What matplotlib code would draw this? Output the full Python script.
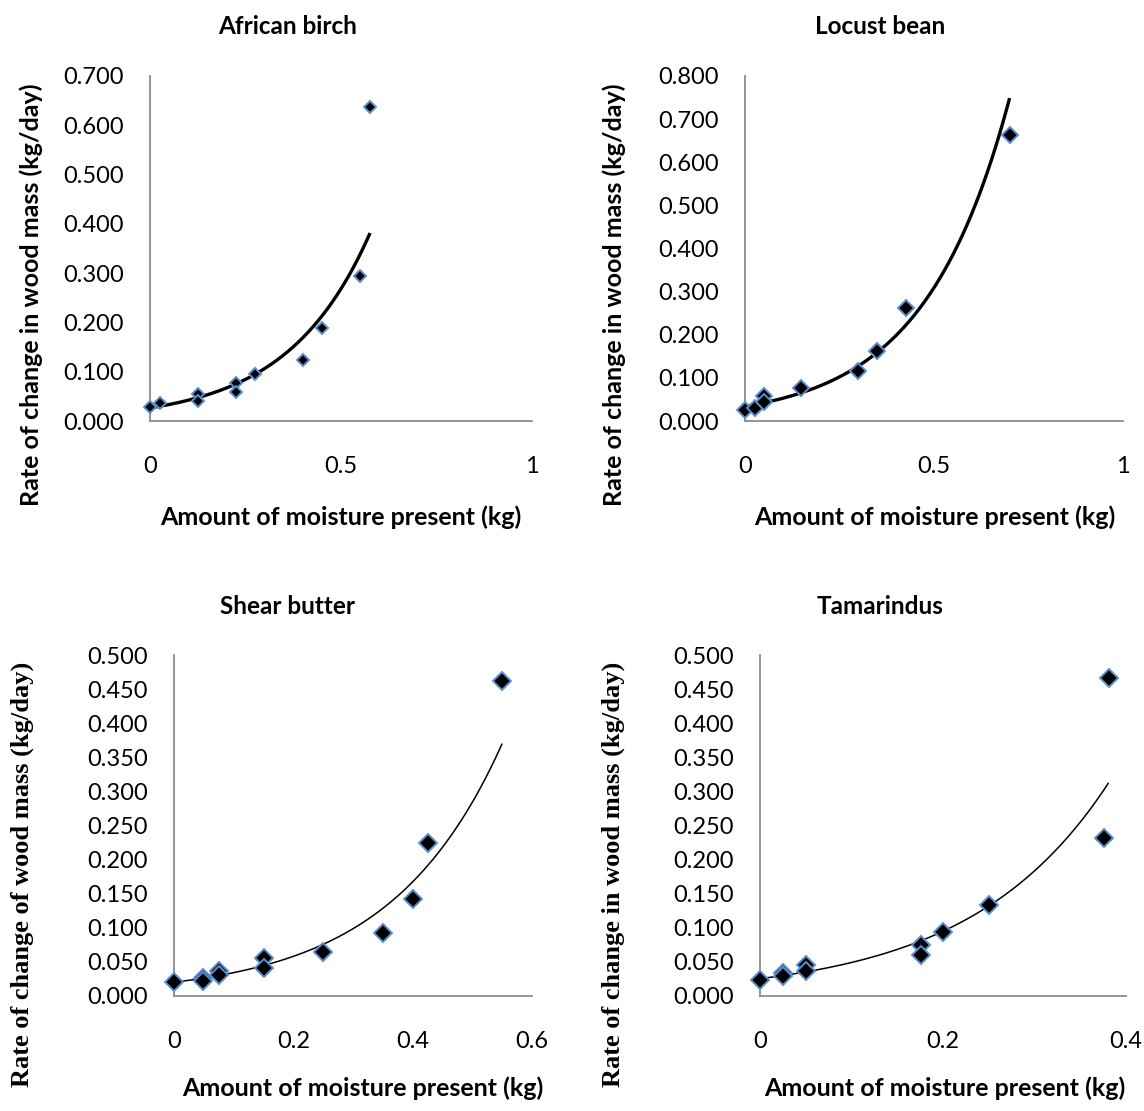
import numpy as np
import matplotlib
matplotlib.use("Agg")
import matplotlib.pyplot as plt

# ---------------- data ----------------
titles = ["African birch", "Locust bean", "Shear butter", "Tamarindus"]

birch_x = [0.0, 0.026, 0.126, 0.126, 0.225, 0.225, 0.274, 0.400, 0.450, 0.549, 0.576]
birch_y = [0.029, 0.036, 0.054, 0.041, 0.078, 0.059, 0.096, 0.123, 0.188, 0.294, 0.638]

locust_x = [0.0, 0.026, 0.050, 0.050, 0.147, 0.300, 0.350, 0.425, 0.700]
locust_y = [0.026, 0.030, 0.057, 0.045, 0.077, 0.115, 0.163, 0.262, 0.663]

shear_x = [0.0, 0.048, 0.048, 0.076, 0.076, 0.150, 0.150, 0.250, 0.351, 0.400, 0.426, 0.550]
shear_y = [0.021, 0.027, 0.022, 0.037, 0.031, 0.055, 0.041, 0.065, 0.093, 0.142, 0.225, 0.462]

tam_x = [0.0, 0.025, 0.025, 0.050, 0.050, 0.176, 0.176, 0.200, 0.250, 0.376, 0.381]
tam_y = [0.023, 0.033, 0.029, 0.045, 0.037, 0.075, 0.060, 0.094, 0.133, 0.231, 0.466]

xlims = [(0, 1), (0, 1), (0, 0.6), (0, 0.4)]
ylims = [(0, 0.7), (0, 0.8), (0, 0.5), (0, 0.5)]
xticks = [[0, 0.5, 1], [0, 0.5, 1], [0, 0.2, 0.4, 0.6], [0, 0.2, 0.4]]
xticklabels = [["0", "0.5", "1"], ["0", "0.5", "1"], ["0", "0.2", "0.4", "0.6"], ["0", "0.2", "0.4"]]
ysteps = [0.1, 0.1, 0.05, 0.05]

xlabel = "Amount of moisture present (kg)"
ylabels = ["Rate of change in wood mass (kg/day)",
           "Rate of change in wood mass (kg/day)",
           "Rate of change of wood mass (kg/day)",
           "Rate of change in wood mass (kg/day)"]

series = [(birch_x, birch_y), (locust_x, locust_y), (shear_x, shear_y), (tam_x, tam_y)]

# ---------------- layout ----------------
W, H = 1144, 1111
fig = plt.figure(figsize=(W / 100, H / 100), dpi=100)

def fx(px):
    return px / W

def fy(py):
    return 1 - py / H

# axes boxes in pixel coords: left, right, top, bottom
boxes = [(150, 532, 76, 421), (745, 1123, 76, 421), (174, 532, 655, 996), (760, 1126, 655, 996)]
title_pos = [(288, 27), (880, 27), (288, 607), (880, 607)]
xlabel_pos = [(341, 517), (935, 517), (363, 1088), (945, 1088)]
ylabel_pos = [(31, 295), (614, 295), (22, 874), (613, 874)]
ylabel_font = ["Lato", "Lato", "Liberation Serif", "Liberation Serif"]
ylabel_size = [18, 18, 19, 19]
marker_size = [6.3, 8.6, 9.0, 9.0]
trend_lw = [2.4, 2.4, 1.1, 1.1]

axis_grey = "#8c8c8c"
edge_blue = "#5b8fcf"

for i, (xs, ys) in enumerate(series):
    l, r, t, b = boxes[i]
    ax = fig.add_axes([fx(l), fy(b), fx(r) - fx(l), fy(t) - fy(b)])
    xs = np.asarray(xs)
    ys = np.asarray(ys)

    # exponential trendline (least squares on log y, like a spreadsheet)
    bcoef, lna = np.polyfit(xs, np.log(ys), 1)
    xx = np.linspace(xs.min(), xs.max(), 200)
    ax.plot(xx, np.exp(lna) * np.exp(bcoef * xx), color="black", lw=trend_lw[i],
            zorder=2, solid_capstyle="butt")

    ax.plot(xs, ys, linestyle="none", marker="D", markersize=marker_size[i],
            markerfacecolor="black", markeredgecolor=edge_blue, markeredgewidth=1.4,
            zorder=3, clip_on=False)

    ax.set_xlim(*xlims[i])
    ax.set_ylim(*ylims[i])
    ax.set_xticks(xticks[i])
    ax.set_xticklabels(xticklabels[i])
    yt = np.arange(0, ylims[i][1] + 1e-9, ysteps[i])
    ax.set_yticks(yt)
    ax.set_yticklabels([f"{v:.3f}" for v in yt])
    for lab in ax.get_xticklabels() + ax.get_yticklabels():
        lab.set_fontfamily("Lato")
        lab.set_fontsize(17)
    ax.tick_params(axis="both", length=0)
    ax.tick_params(axis="y", pad=19)
    ax.tick_params(axis="x", pad=25)
    for s in ["top", "right"]:
        ax.spines[s].set_visible(False)
    for s in ["left", "bottom"]:
        ax.spines[s].set_color(axis_grey)
        ax.spines[s].set_linewidth(1.3)
    ax.patch.set_alpha(0)

    tx, ty = title_pos[i]
    fig.text(fx(tx), fy(ty), titles[i], ha="center", va="center",
             fontfamily="Lato", fontweight="bold", fontsize=17.5)
    lx, ly = xlabel_pos[i]
    fig.text(fx(lx), fy(ly), xlabel, ha="center", va="center",
             fontfamily="Lato", fontweight="bold", fontsize=18)
    yx, yy = ylabel_pos[i]
    fig.text(fx(yx), fy(yy), ylabels[i], ha="center", va="center", rotation=90,
             fontfamily=ylabel_font[i], fontweight="bold", fontsize=ylabel_size[i])

fig.savefig("out.png", dpi=100, facecolor="white")
